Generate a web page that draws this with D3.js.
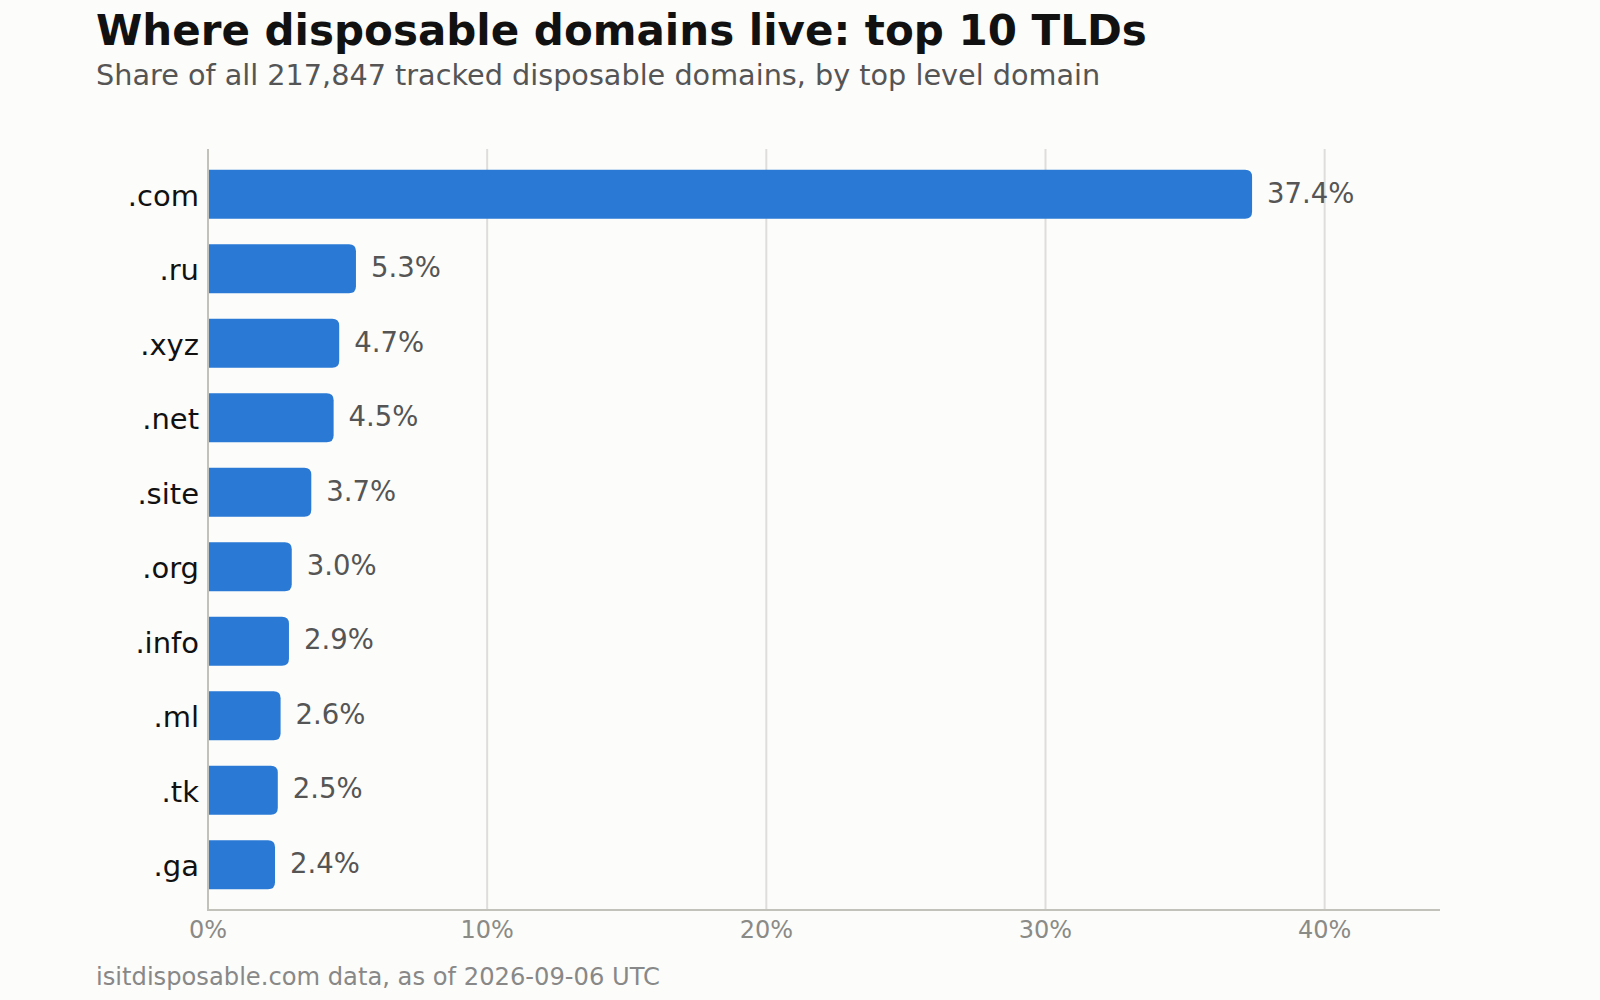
<!DOCTYPE html>
<html>
<head>
<meta charset="utf-8">
<script src="https://cdn.jsdelivr.net/npm/d3@7"></script>
<style>
  body { margin: 0; background: #fcfcfa; }
  svg { display: block; font-family: "DejaVu Sans", sans-serif; }
</style>
</head>
<body>
<svg id="drawing_region"></svg>
<script>
const tlds = [ '.com', '.ru', '.xyz', '.net', '.site', '.org', '.info', '.ml', '.tk', '.ga' ];
const shares = [ 37.4, 5.3, 4.7, 4.5, 3.7, 3.0, 2.9, 2.6, 2.5, 2.4 ];
const xTicks = [ 0, 10, 20, 30, 40 ];

const title = 'Where disposable domains live: top 10 TLDs';
const subtitle = 'Share of all 217,847 tracked disposable domains, by top level domain';
const footer = 'isitdisposable.com data, as of 2026-09-06 UTC';

const data = tlds.map( ( t, i ) => ({ tld: t, share: shares[i] }) );

const width = 1600, height = 1000;
const margin = { top: 149, right: 160, bottom: 90, left: 208 };

const svg = d3.select( '#drawing_region' )
    .attr( 'width', width )
    .attr( 'height', height );

svg.append( 'rect' )
    .attr( 'width', width )
    .attr( 'height', height )
    .attr( 'fill', '#fcfcfa' );

const x = d3.scaleLinear()
    .domain( [ 0, d3.max( shares ) * 1.18 ] )
    .range( [ margin.left, width - margin.right ] );

const y = d3.scaleBand()
    .domain( tlds )
    .range( [ margin.top, height - margin.bottom ] )
    .paddingInner( 0.343 )
    .paddingOuter( 0.28 );

// gridlines
svg.append( 'g' )
    .selectAll( 'line' )
    .data( xTicks.filter( d => d > 0 ) )
    .join( 'line' )
    .attr( 'x1', d => x( d ) )
    .attr( 'x2', d => x( d ) )
    .attr( 'y1', margin.top )
    .attr( 'y2', height - margin.bottom )
    .attr( 'stroke', '#dedddb' )
    .attr( 'stroke-width', 2 );

// bars, rounded on the right end only
const r = 7;
const barPath = d => {
    const x0 = x( 0 ), x1 = x( d.share ), y0 = y( d.tld ), h = y.bandwidth();
    return `M${x0},${y0} H${x1 - r} Q${x1},${y0} ${x1},${y0 + r} V${y0 + h - r} Q${x1},${y0 + h} ${x1 - r},${y0 + h} H${x0} Z`;
};

svg.append( 'g' )
    .selectAll( 'path' )
    .data( data )
    .join( 'path' )
    .attr( 'd', barPath )
    .attr( 'fill', '#2979d5' );

// value labels
svg.append( 'g' )
    .selectAll( 'text' )
    .data( data )
    .join( 'text' )
    .attr( 'x', d => x( d.share ) + 15 )
    .attr( 'y', d => y( d.tld ) + y.bandwidth() / 2 )
    .attr( 'dy', '0.3em' )
    .style( 'font-size', '27.5px' )
    .attr( 'fill', '#555' )
    .text( d => d.share.toFixed( 1 ) + '%' );

// category labels
svg.append( 'g' )
    .selectAll( 'text' )
    .data( data )
    .join( 'text' )
    .attr( 'x', margin.left - 9 )
    .attr( 'y', d => y( d.tld ) + y.bandwidth() / 2 )
    .attr( 'dy', '0.4em' )
    .attr( 'text-anchor', 'end' )
    .style( 'font-size', '29px' )
    .attr( 'fill', '#111' )
    .text( d => d.tld );

// axes lines
svg.append( 'line' )
    .attr( 'x1', x( 0 ) ).attr( 'x2', x( 0 ) )
    .attr( 'y1', margin.top ).attr( 'y2', height - margin.bottom + 1 )
    .attr( 'stroke', '#c3c2ba' )
    .attr( 'stroke-width', 2 );

svg.append( 'line' )
    .attr( 'x1', x( 0 ) - 1 ).attr( 'x2', x.range()[1] )
    .attr( 'y1', height - margin.bottom ).attr( 'y2', height - margin.bottom )
    .attr( 'stroke', '#c3c2ba' )
    .attr( 'stroke-width', 2 );

// tick labels
svg.append( 'g' )
    .selectAll( 'text' )
    .data( xTicks )
    .join( 'text' )
    .attr( 'x', d => x( d ) )
    .attr( 'y', height - margin.bottom + 28 )
    .attr( 'text-anchor', 'middle' )
    .style( 'font-size', '24px' )
    .attr( 'fill', '#8a8a86' )
    .text( d => d + '%' );

// titles
svg.append( 'text' )
    .attr( 'x', 96 ).attr( 'y', 45 )
    .style( 'font-size', '42px' )
    .style( 'font-weight', 'bold' )
    .attr( 'fill', '#111' )
    .text( title );

svg.append( 'text' )
    .attr( 'x', 96 ).attr( 'y', 85 )
    .style( 'font-size', '28.7px' )
    .attr( 'fill', '#555' )
    .text( subtitle );

svg.append( 'text' )
    .attr( 'x', 96 ).attr( 'y', 985 )
    .style( 'font-size', '24.2px' )
    .attr( 'fill', '#888' )
    .text( footer );
</script>
</body>
</html>
